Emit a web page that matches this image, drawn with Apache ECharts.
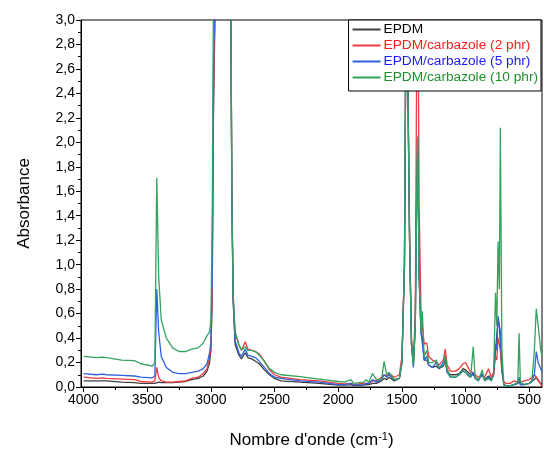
<!DOCTYPE html>
<html>
<head>
<meta charset="utf-8">
<script src="https://cdn.jsdelivr.net/npm/echarts@6/dist/echarts.min.js"></script>
<style>html,body{margin:0;padding:0;background:#fff;}#c{width:544px;height:454px;}</style>
</head>
<body>
<div id="c"></div>
<script>
const wavenumbers = [4000,3900,3850,3840,3820,3700,3600,3550,3460,3440,3425,3410,3390,3350,3300,3250,3200,3150,3100,3060,3030,3010,3000,2990,2980,2960,2850,2845,2835,2825,2810,2780,2760,2730,2710,2680,2650,2620,2580,2540,2500,2450,2300,2150,2000,1950,1900,1880,1800,1780,1760,1730,1700,1660,1640,1620,1600,1560,1520,1500,1480,1465,1450,1440,1425,1410,1395,1385,1376,1365,1350,1340,1325,1305,1290,1260,1230,1210,1175,1160,1145,1120,1080,1050,1020,1000,980,960,940,925,900,870,850,820,800,780,765,755,745,735,727,715,700,680,650,620,590,580,570,540,500,480,460,445,430,410,400];
const epdm   = [0.05,0.05,0.05,0.055,0.05,0.04,0.035,0.03,0.03,0.03,0.04,0.04,0.035,0.035,0.035,0.04,0.045,0.06,0.07,0.09,0.13,0.2,0.3,0.7,2.2,3.6,3.6,3.5,1.5,0.7,0.35,0.26,0.23,0.28,0.24,0.23,0.21,0.19,0.14,0.1,0.07,0.05,0.04,0.03,0.015,0.015,0.02,0.01,0.015,0.02,0.02,0.03,0.03,0.05,0.07,0.06,0.08,0.05,0.07,0.2,1.0,3.6,3.6,1.2,0.35,0.18,0.5,1.5,2.0,0.9,0.45,0.4,0.22,0.22,0.18,0.16,0.17,0.15,0.17,0.22,0.13,0.1,0.1,0.11,0.15,0.14,0.12,0.1,0.1,0.08,0.06,0.1,0.06,0.09,0.06,0.1,0.3,0.3,0.55,0.5,0.5,0.15,0.02,0.01,0.01,0.02,0.03,0.05,0.02,0.02,0.03,0.05,0.06,0.08,0.05,0.03,0.02];
const carb2  = [0.08,0.07,0.075,0.08,0.07,0.065,0.06,0.045,0.04,0.05,0.16,0.08,0.05,0.04,0.04,0.045,0.05,0.07,0.08,0.11,0.15,0.24,0.33,0.8,2.4,3.6,3.6,3.6,1.6,0.75,0.45,0.34,0.3,0.37,0.31,0.3,0.29,0.27,0.21,0.14,0.1,0.08,0.06,0.05,0.03,0.025,0.03,0.02,0.03,0.03,0.03,0.05,0.05,0.08,0.1,0.09,0.11,0.08,0.1,0.25,1.0,3.6,3.6,1.3,0.4,0.22,0.6,2.5,3.6,1.5,0.6,0.5,0.35,0.36,0.25,0.22,0.2,0.18,0.22,0.31,0.18,0.13,0.13,0.15,0.19,0.2,0.16,0.12,0.12,0.1,0.08,0.1,0.08,0.15,0.08,0.12,0.25,0.22,0.4,0.35,0.3,0.12,0.04,0.03,0.03,0.05,0.04,0.04,0.04,0.05,0.06,0.08,0.1,0.1,0.06,0.02,0.01];
const carb5  = [0.11,0.1,0.105,0.11,0.1,0.095,0.09,0.08,0.075,0.09,0.8,0.45,0.25,0.16,0.12,0.11,0.11,0.12,0.13,0.15,0.19,0.28,0.37,0.9,2.6,3.6,3.6,3.5,1.5,0.7,0.38,0.28,0.25,0.31,0.26,0.25,0.24,0.21,0.16,0.11,0.08,0.07,0.05,0.04,0.02,0.02,0.03,0.015,0.02,0.03,0.03,0.06,0.04,0.06,0.1,0.08,0.1,0.06,0.07,0.2,1.0,3.6,3.6,1.2,0.35,0.16,0.5,1.5,2.03,0.9,0.45,0.45,0.22,0.25,0.18,0.16,0.2,0.15,0.2,0.22,0.12,0.08,0.08,0.1,0.13,0.12,0.1,0.08,0.12,0.07,0.05,0.11,0.05,0.08,0.05,0.1,0.35,0.3,0.58,0.5,0.45,0.15,0.02,0.01,0.01,0.02,0.03,0.08,0.02,0.02,0.03,0.05,0.1,0.29,0.2,0.15,0.12];
const carb10 = [0.25,0.24,0.245,0.26,0.24,0.22,0.215,0.19,0.17,0.2,1.71,0.9,0.55,0.4,0.32,0.29,0.29,0.31,0.32,0.36,0.42,0.45,0.55,1.3,3.2,3.6,3.6,3.5,1.5,0.75,0.45,0.35,0.3,0.33,0.3,0.3,0.29,0.26,0.21,0.15,0.12,0.1,0.085,0.065,0.045,0.04,0.06,0.03,0.04,0.06,0.04,0.11,0.06,0.06,0.21,0.1,0.12,0.06,0.07,0.2,1.0,3.6,3.6,1.2,0.35,0.18,0.5,1.5,2.05,0.9,0.45,0.62,0.25,0.3,0.2,0.2,0.22,0.16,0.18,0.26,0.15,0.08,0.08,0.1,0.14,0.12,0.09,0.08,0.33,0.08,0.05,0.14,0.05,0.07,0.05,0.1,0.77,0.5,1.19,0.8,2.12,0.3,0.02,0.01,0.01,0.02,0.04,0.44,0.04,0.02,0.03,0.04,0.3,0.64,0.5,0.3,0.25];

const xTickLabels = [4000,3500,3000,2500,2000,1500,1000,500];
const xMinorTicks = [3750,3250,2750,2250,1750,1250,750];

const seriesNames = ['EPDM','EPDM/carbazole (2 phr)','EPDM/carbazole (5 phr)','EPDM/carbazole (10 phr)'];
const lineColors = ['#404040','#f03c3c','#2e62dc','#33a35e'];
const textColors = ['#000000','#ff1a1a','#1a1aff','#1f8f2a'];
const allValues = [epdm, carb2, carb5, carb10];

const chart = echarts.init(document.getElementById('c'));
const font = 'Liberation Sans, Arial, sans-serif';
chart.setOption({
  animation: false,
  backgroundColor: '#fff',
  grid: {left: 81, right: 2, top: 20, bottom: 66, show: true, borderColor: '#000', borderWidth: 1},
  legend: {
    orient: 'vertical', right: 3, top: 20,
    backgroundColor: '#fff', borderColor: '#000', borderWidth: 1, borderRadius: 0,
    padding: [2, 3, 6, 4], itemGap: 1, itemWidth: 28, itemHeight: 2, icon: 'rect',
    textStyle: {fontFamily: font, fontSize: 13.7, lineHeight: 15, padding: [0, 0, 0, -2]},
    data: seriesNames.map((n, i) => ({name: n, textStyle: {color: textColors[i]}, itemStyle: {color: lineColors[i]}}))
  },
  xAxis: [{
    type: 'value', inverse: true, min: 400, max: 4020,
    name: "Nombre d'onde (cm{sup|-1})", nameLocation: 'middle', nameGap: 44,
    nameTextStyle: {fontFamily: font, fontSize: 17, color: '#000',
      rich: {sup: {fontFamily: font, fontSize: 11, color: '#000', verticalAlign: 'top', padding: [0,0,8,0]}}},
    axisLine: {show: true, onZero: false, lineStyle: {color: '#000', width: 1}},
    axisTick: {show: true, inside: false, length: 5, customValues: xTickLabels, lineStyle: {color: '#000'}},
    splitLine: {show: false},
    axisLabel: {fontFamily: font, fontSize: 14, color: '#000', margin: 6, customValues: xTickLabels,
      formatter: v => String(v)}
  }, {
    type: 'value', inverse: true, min: 400, max: 4020, position: 'bottom',
    axisLine: {show: false, onZero: false},
    axisTick: {show: true, inside: false, length: 3, customValues: xMinorTicks, lineStyle: {color: '#000'}},
    axisLabel: {show: false},
    splitLine: {show: false}
  }],
  yAxis: {
    type: 'value', min: 0, max: 3, interval: 0.2,
    name: 'Absorbance', nameLocation: 'middle', nameGap: 48,
    nameTextStyle: {fontFamily: font, fontSize: 17, color: '#000'},
    axisLine: {show: true, lineStyle: {color: '#000', width: 1}},
    axisTick: {show: true, inside: false, length: 5, lineStyle: {color: '#000'}},
    minorTick: {show: true, splitNumber: 2, length: 3, lineStyle: {color: '#000'}},
    splitLine: {show: false},
    axisLabel: {fontFamily: font, fontSize: 14, color: '#000', margin: 6,
      formatter: v => v.toFixed(1).replace('.', ',')}
  },
  series: seriesNames.map((n, i) => ({
    name: n, type: 'line', symbol: 'none', clip: true, xAxisIndex: 0,
    data: wavenumbers.map((w, k) => [w, allValues[i][k]]),
    lineStyle: {color: lineColors[i], width: 1.3},
    itemStyle: {color: lineColors[i]}
  }))
});
</script>
</body>
</html>
